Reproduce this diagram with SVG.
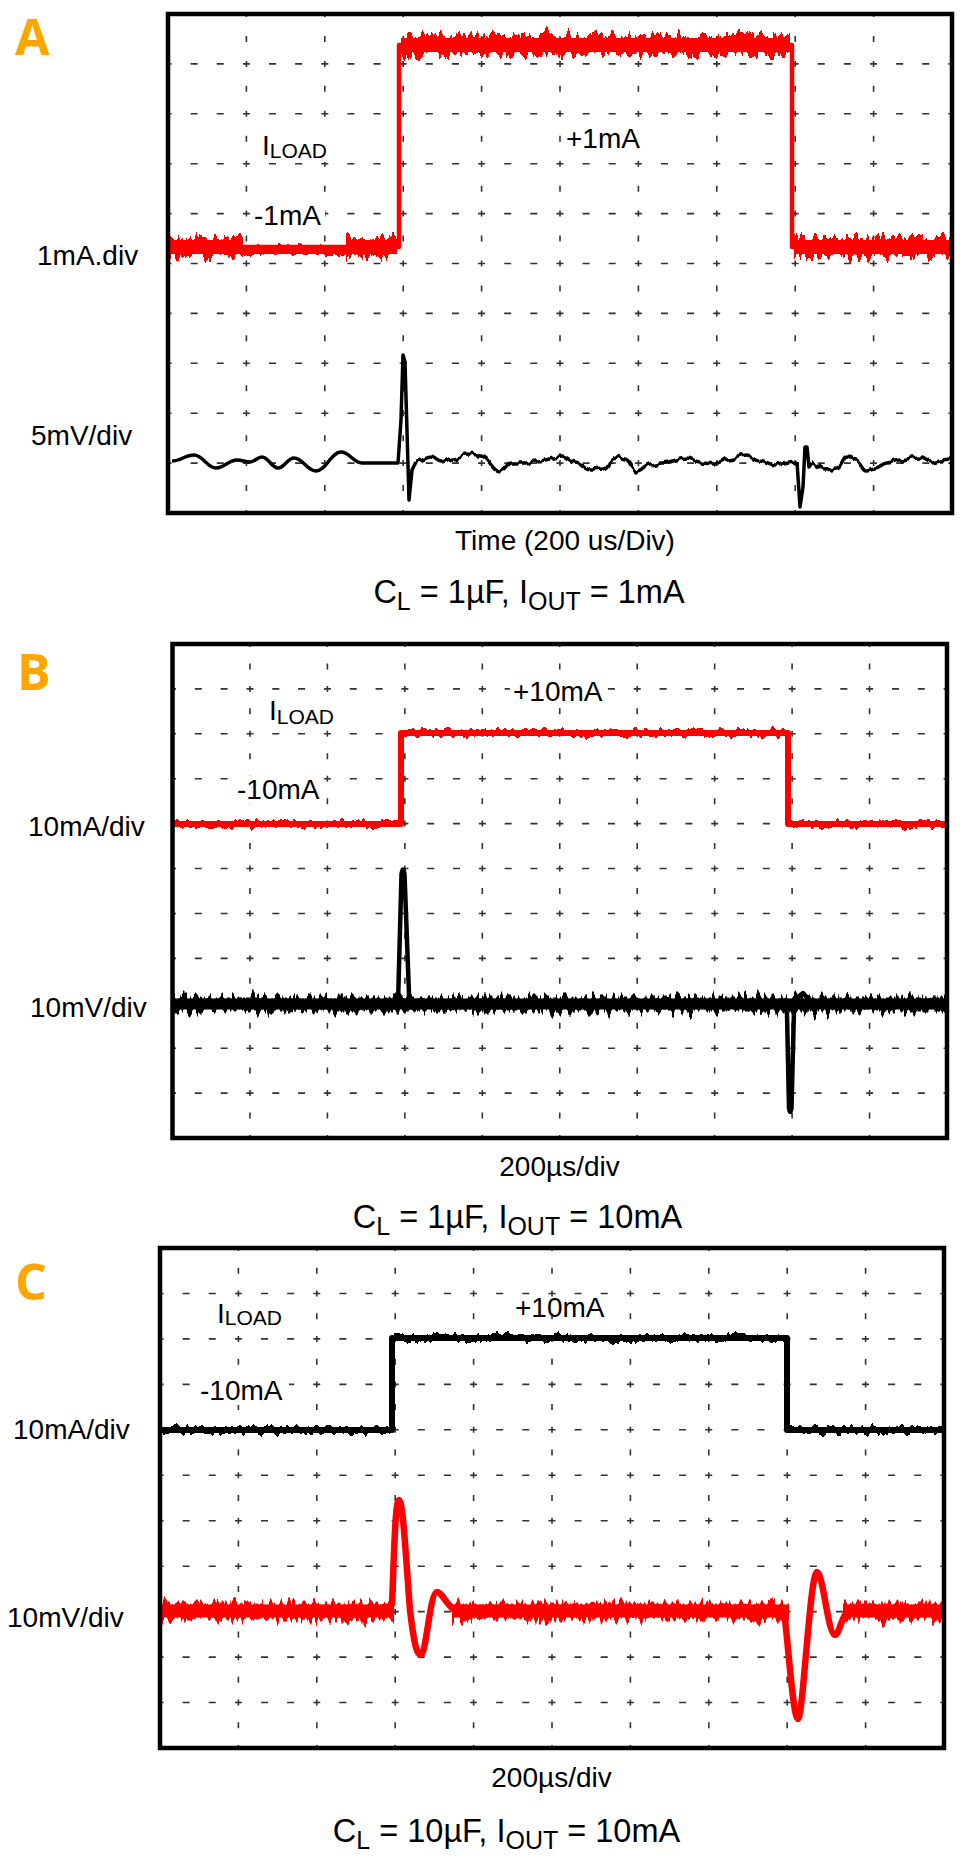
<svg xmlns="http://www.w3.org/2000/svg" width="970" height="1865" viewBox="0 0 970 1865">
<style>
.txt{font-family:"Liberation Sans",Arial,sans-serif;font-size:28px;fill:#000}
.cap{font-family:"Liberation Sans",Arial,sans-serif;font-size:32.5px;fill:#000}
.let{font-family:"Open Sans","Noto Sans",sans-serif;font-size:50px;font-weight:bold;fill:#FFA500}
.frame{fill:none;stroke:#000;stroke-width:4.5}
.grid{fill:none;stroke:#333;stroke-width:1.6}
.bg{fill:#fff;stroke:none}
.red{fill:none;stroke:#FF0000;stroke-linejoin:round;stroke-linecap:butt}
.blk{fill:none;stroke:#000;stroke-linejoin:round;stroke-linecap:butt}
</style>
<defs>
<filter id="nzS" filterUnits="userSpaceOnUse" x="0" y="0" width="970" height="1865" color-interpolation-filters="sRGB">
<feTurbulence type="fractalNoise" baseFrequency="0.16 0.01" numOctaves="2" seed="3" result="t"/>
<feColorMatrix in="t" type="matrix" values="0 0 0 0 0.5  0 1 0 0 0  0 0 0 0 0  0 0 0 0 1" result="m"/>
<feDisplacementMap in="SourceGraphic" in2="m" scale="32" xChannelSelector="R" yChannelSelector="G"/>
</filter>
<filter id="nzS2" filterUnits="userSpaceOnUse" x="0" y="0" width="970" height="1865" color-interpolation-filters="sRGB">
<feTurbulence type="fractalNoise" baseFrequency="0.25 0.01" numOctaves="2" seed="9" result="t"/>
<feColorMatrix in="t" type="matrix" values="0 0 0 0 0.5  0 1 0 0 0  0 0 0 0 0  0 0 0 0 1" result="m"/>
<feDisplacementMap in="SourceGraphic" in2="m" scale="28" xChannelSelector="R" yChannelSelector="G"/>
</filter>
<filter id="nzM" filterUnits="userSpaceOnUse" x="0" y="0" width="970" height="1865" color-interpolation-filters="sRGB">
<feTurbulence type="fractalNoise" baseFrequency="0.2 0.01" numOctaves="2" seed="7" result="t"/>
<feColorMatrix in="t" type="matrix" values="0 0 0 0 0.5  0 1 0 0 0  0 0 0 0 0  0 0 0 0 1" result="m"/>
<feDisplacementMap in="SourceGraphic" in2="m" scale="12" xChannelSelector="R" yChannelSelector="G"/>
</filter>
<filter id="nzL" filterUnits="userSpaceOnUse" x="0" y="0" width="970" height="1865" color-interpolation-filters="sRGB">
<feTurbulence type="fractalNoise" baseFrequency="0.2 0.01" numOctaves="1" seed="11" result="t"/>
<feColorMatrix in="t" type="matrix" values="0 0 0 0 0.5  0 1 0 0 0  0 0 0 0 0  0 0 0 0 1" result="m"/>
<feDisplacementMap in="SourceGraphic" in2="m" scale="9" xChannelSelector="R" yChannelSelector="G"/>
</filter>
</defs>
<rect x="0" y="0" width="970" height="1865" fill="#fff"/>

<!-- Panel A -->
<g id="panel-a">
<text class="let" x="15" y="55">A</text>
<g id="grid-a" class="grid">
<path stroke-dasharray="6 18.95" stroke-dashoffset="3" d="M246.4,14V513M324.8,14V513M403.2,14V513M481.6,14V513M560,14V513M638.4,14V513M716.8,14V513M795.2,14V513M873.6,14V513"/>
<path stroke-dasharray="7 19.13" stroke-dashoffset="3.5" d="M168,63.9H952M168,113.8H952M168,163.7H952M168,213.6H952M168,263.5H952M168,313.4H952M168,363.3H952M168,413.2H952M168,463.1H952"/>
</g>
<g id="labels-bg-a">
<rect class="bg" x="259" y="131" width="70" height="31"/>
<rect class="bg" x="251" y="201" width="74" height="28"/>
<rect class="bg" x="563" y="124" width="80" height="28"/>
</g>
<g id="trace-a-iload">
<path class="red" stroke-width="4.5" d="M170,247H399V45H792V247H950"/>
<path class="red" stroke-width="14" d="M170,247H243M346,247H397M401,45H790M794,247H950"/>
<path class="red" filter="url(#nzS)" stroke-width="14" d="M170,247H243M346,247H397M401,45H790M794,247H950"/>
<path class="red" filter="url(#nzS2)" stroke-width="14" d="M170,247H243M346,247H397M401,45H790M794,247H950"/>
<path class="red" stroke-width="8" d="M241,250H348"/>
<path class="red" filter="url(#nzM)" stroke-width="8" d="M241,250H348"/>
</g>
<g id="trace-a-vout">
<path class="blk" stroke-width="3.5" d="M172,461C180.8,461 185.2,455 194,455C202.8,455 207.2,468 216,468C224.4,468 228.6,460 237,460C242.2,460 244.8,462 250,462C254.8,462 257.2,457 262,457C268.4,457 271.6,468 278,468C284.4,468 287.6,458 294,458C302.8,458 307.2,471 316,471C326,471 331,452 341,452C349.4,452 353.6,463 362,463L398,463L401,420L403,355L405,362L409,500L412,470L416,462"/>
<path class="blk" stroke-width="3.5" filter="url(#nzL)" d="M416,462C422,462 425,457 431,457C435,457 437,462 441,462C445.8,462 448.2,458 453,458C458.2,458 460.8,455 466,455C472,455 475,456 481,456C488.6,456 492.4,472 500,472C504.8,472 507.2,463 512,463L525,463C529.8,463 532.2,461 537,461C547,461 552,457 562,457C567.2,457 569.8,463 575,463C581.4,463 584.6,470 591,470C595.8,470 598.2,469 603,469C608.2,469 610.8,457 616,457C619.6,457 621.4,460 625,460C629.8,460 632.2,472 637,472C642.2,472 644.8,465 650,465C654.8,465 657.2,463 662,463C672,463 677,458 687,458C692.2,458 694.8,462 700,462C707.6,462 711.4,463 719,463C722.6,463 724.4,459 728,459C735.6,459 739.4,455 747,455C751.8,455 754.2,460 759,460C765.4,460 768.6,465 775,465C783.8,465 788.2,462 797,462"/>
<path class="blk" stroke-width="3.5" d="M797,462L800,507L803,487L805,447L807,447L809,467L812,463"/>
<path class="blk" stroke-width="3.5" filter="url(#nzL)" d="M812,463C817.2,463 819.8,470 825,470C829.8,470 832.2,468 837,468C841,468 843,456 847,456C850.6,456 852.4,460 856,460C860,460 862,470 866,470C869.6,470 871.4,468 875,468C879.8,468 882.2,463 887,463C892.2,463 894.8,460 900,460C907.6,460 911.4,457 919,457C923.8,457 926.2,462 931,462C935,462 937,460 941,460C944.6,460 946.4,459 950,459"/>
</g>
<rect class="frame" x="168" y="14" width="784" height="499"/>
<text class="txt" x="262" y="155">I<tspan font-size="21" dy="3">LOAD</tspan></text>
<text class="txt" x="254" y="225">-1mA</text>
<text class="txt" x="566" y="148">+1mA</text>
<text class="txt" x="37" y="265">1mA.div</text>
<text class="txt" x="31" y="445">5mV/div</text>
<text class="txt" x="565" y="550" text-anchor="middle">Time (200 us/Div)</text>
<text class="cap" x="529" y="603" text-anchor="middle">C<tspan font-size="25" dy="7">L</tspan><tspan dy="-7"> = 1µF, I</tspan><tspan font-size="25" dy="7">OUT</tspan><tspan dy="-7"> = 1mA</tspan></text>
</g>

<!-- Panel B -->
<g id="panel-b">
<text class="let" x="17" y="690">B</text>
<g id="grid-b" class="grid">
<path stroke-dasharray="6 16.45" stroke-dashoffset="3" d="M249.95,644V1138M327.4,644V1138M404.85,644V1138M482.3,644V1138M559.75,644V1138M637.2,644V1138M714.65,644V1138M792.1,644V1138M869.55,644V1138"/>
<path stroke-dasharray="7 18.82" stroke-dashoffset="3.5" d="M172.5,688.9H947M172.5,733.8H947M172.5,778.7H947M172.5,823.6H947M172.5,868.5H947M172.5,913.5H947M172.5,958.4H947M172.5,1003.3H947M172.5,1048.2H947M172.5,1093.1H947"/>
</g>
<g id="labels-bg-b">
<rect class="bg" x="266" y="698" width="70" height="31"/>
<rect class="bg" x="234" y="776" width="90" height="28"/>
<rect class="bg" x="510" y="677" width="96" height="28"/>
</g>
<g id="trace-b-iload">
<path class="red" stroke-width="6" d="M174,824H401V733H788V824H945"/>
<path class="red" filter="url(#nzM)" stroke-width="6" d="M174,824H399M403,733H786M790,824H945"/>
</g>
<g id="trace-b-vout">
<path class="blk" stroke-width="11" d="M174,1004H945"/>
<path class="blk" filter="url(#nzS)" stroke-width="11" d="M174,1004H945"/>
<path class="blk" filter="url(#nzS2)" stroke-width="11" d="M174,1004H945"/>
<path class="blk" stroke-width="4.5" d="M398,1004L401.5,874Q403,865 404.5,874L409,994L413,1004"/>
<path class="blk" stroke-width="4.5" d="M784,1002L787,1014L789,1108Q790,1116 791.5,1108L794,1010L797,998L803,993L810,1001"/>
</g>
<rect class="frame" x="172.5" y="644" width="774.5" height="494"/>
<text class="txt" x="269" y="720">I<tspan font-size="21" dy="4">LOAD</tspan></text>
<text class="txt" x="237" y="799">-10mA</text>
<text class="txt" x="513" y="701">+10mA</text>
<text class="txt" x="28" y="836">10mA/div</text>
<text class="txt" x="30" y="1017">10mV/div</text>
<text class="txt" x="559.5" y="1176" text-anchor="middle">200µs/div</text>
<text class="cap" x="517.5" y="1228" text-anchor="middle">C<tspan font-size="25" dy="7">L</tspan><tspan dy="-7"> = 1µF, I</tspan><tspan font-size="25" dy="7">OUT</tspan><tspan dy="-7"> = 10mA</tspan></text>
</g>

<!-- Panel C -->
<g id="panel-c">
<text class="let" x="15" y="1300">C</text>
<g id="grid-c" class="grid">
<path stroke-dasharray="6 16.73" stroke-dashoffset="3" d="M238.4,1248V1748M316.8,1248V1748M395.2,1248V1748M473.6,1248V1748M552,1248V1748M630.4,1248V1748M708.8,1248V1748M787.2,1248V1748M865.6,1248V1748"/>
<path stroke-dasharray="7 19.13" stroke-dashoffset="3.5" d="M160,1293.5H944M160,1338.9H944M160,1384.4H944M160,1429.8H944M160,1475.3H944M160,1520.7H944M160,1566.2H944M160,1611.6H944M160,1657.1H944M160,1702.5H944"/>
</g>
<g id="labels-bg-c">
<rect class="bg" x="214" y="1300" width="70" height="31"/>
<rect class="bg" x="197" y="1377" width="92" height="28"/>
</g>
<g id="trace-c-iload">
<path class="blk" stroke-width="6" d="M162,1430H392V1338H787V1430H942"/>
<path class="blk" filter="url(#nzM)" stroke-width="6" d="M162,1430H390M394,1338H785M789,1430H942"/>
</g>
<g id="trace-c-vout">
<path class="red" stroke-width="13" d="M162,1611H394M452,1611H789M843,1611H942"/>
<path class="red" filter="url(#nzS)" stroke-width="13" d="M162,1611H394M452,1611H789M843,1611H942"/>
<path class="red" filter="url(#nzS2)" stroke-width="13" d="M162,1611H394M452,1611H789M843,1611H942"/>
<path class="red" stroke-width="6.5" d="M388,1611L392,1604C394,1560 395,1500 399,1500C403,1500 406,1560 410,1610C414,1645 417,1655 421,1655C426,1655 430,1592 437,1592C442,1592 446,1605 456,1611"/>
<path class="red" stroke-width="6.5" d="M784,1611C788,1640 793,1719 798,1719C803,1719 810,1572 817,1572C823,1572 828,1635 835,1635C839,1635 842,1615 848,1611"/>
</g>
<rect class="frame" x="160" y="1248" width="784" height="500"/>
<text class="txt" x="217" y="1323">I<tspan font-size="21" dy="2">LOAD</tspan></text>
<text class="txt" x="200" y="1400">-10mA</text>
<text class="txt" x="515" y="1317">+10mA</text>
<text class="txt" x="13" y="1439">10mA/div</text>
<text class="txt" x="7" y="1627">10mV/div</text>
<text class="txt" x="551.5" y="1787" text-anchor="middle">200µs/div</text>
<text class="cap" x="506.5" y="1842" text-anchor="middle">C<tspan font-size="25" dy="7">L</tspan><tspan dy="-7"> = 10µF, I</tspan><tspan font-size="25" dy="7">OUT</tspan><tspan dy="-7"> = 10mA</tspan></text>
</g>
</svg>
